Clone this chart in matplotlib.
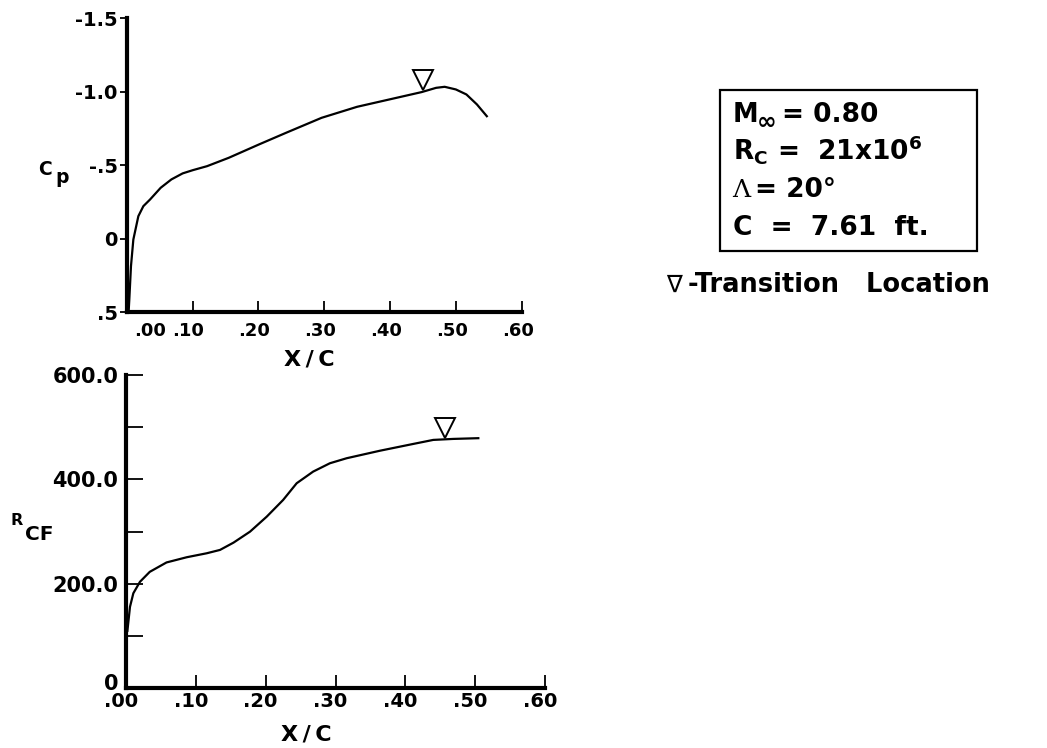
import matplotlib.pyplot as plt
from matplotlib.patches import Rectangle
from matplotlib.transforms import ScaledTranslation

plt.rcParams['font.family'] = ['DejaVu Sans']
plt.rcParams['font.weight'] = 'bold'
plt.rcParams['mathtext.fontset'] = 'custom'
plt.rcParams['mathtext.rm'] = 'DejaVu Sans:bold'
plt.rcParams['mathtext.it'] = 'DejaVu Sans:bold'
plt.rcParams['mathtext.bf'] = 'DejaVu Sans:bold'

# pressure distribution
cp_x = [0.003, 0.004, 0.0065, 0.0101, 0.0177, 0.0253, 0.0354, 0.0516, 0.0679, 0.085,
        0.1005, 0.122, 0.155, 0.201, 0.242, 0.296, 0.350, 0.399, 0.448, 0.470,
        0.483, 0.500, 0.516, 0.532, 0.547]
cp = [0.49, 0.41, 0.186, 0.005, -0.154, -0.222, -0.267, -0.347, -0.404, -0.445,
      -0.467, -0.494, -0.551, -0.642, -0.721, -0.823, -0.898, -0.948, -0.998, -1.027,
      -1.034, -1.016, -0.982, -0.914, -0.834]
cp_trans_x = [0.4506]
cp_trans_y = [-1.077]

# crossflow Reynolds number
rcf_x = [0.002, 0.0057, 0.0105, 0.020, 0.034, 0.058, 0.087, 0.1156, 0.1346, 0.154,
         0.1776, 0.2015, 0.225, 0.2444, 0.268, 0.292, 0.316, 0.3637, 0.4114, 0.440,
         0.4687, 0.5045]
rcf = [110, 156, 182, 204, 223, 241, 251, 258.6, 265, 279,
       300, 328.7, 360.7, 392.7, 415, 431, 440.6, 455, 468, 475.7,
       477.6, 479]
rcf_trans_x = [0.457]
rcf_trans_y = [498.7]

xticks = [0.0, 0.1, 0.2, 0.3, 0.4, 0.5, 0.6]
xtick_labels = ['.00', '.10', '.20', '.30', '.40', '.50', '.60']
cp_ticks = [-1.5, -1.0, -0.5, 0.0, 0.5]
cp_tick_labels = ['-1.5', '-1.0', '-.5', '0', '.5']
rcf_ticks = [0, 200, 400, 600]
rcf_tick_labels = ['0', '200.0', '400.0', '600.0']
rcf_minor = [100, 300, 500]

W, H = 1047, 748
fig = plt.figure(figsize=(W / 100, H / 100), dpi=100)


def ftext(px, py, s, **kw):
    kw.setdefault('va', 'baseline')
    return fig.text(px / W, 1 - py / H, s, **kw)


def shift(label, dx, dy=0):
    label.set_transform(label.get_transform() + ScaledTranslation(dx / 100, dy / 100, fig.dpi_scale_trans))


ax1 = fig.add_axes([126.7 / W, 1 - 312.3 / H, 395 / W, 294 / H])
ax2 = fig.add_axes([126 / W, 1 - 688.3 / H, 419 / W, 313.3 / H])

for ax in (ax1, ax2):
    for s in ('top', 'right'):
        ax.spines[s].set_visible(False)
    for s in ('left', 'bottom'):
        ax.spines[s].set_linewidth(3.0)
    ax.set_xlim(0, 0.6)
    ax.set_xticks(xticks)
    ax.set_xticklabels(xtick_labels)

ax1.tick_params(axis='x', direction='in', length=8, width=1.3, pad=7, labelsize=13)
ax2.tick_params(axis='x', direction='in', length=9.5, width=1.3, pad=3, labelsize=14)
for i, lab in enumerate(ax1.get_xticklabels()):
    shift(lab, 23 if i == 0 else -4)
for lab in ax2.get_xticklabels():
    shift(lab, -5)

ax1.plot(cp_x, cp, color='black', lw=1.6)
ax1.plot(cp_trans_x, cp_trans_y, marker='v', ms=14, mfc='white', mec='black', mew=1.4, ls='none')
ax1.set_ylim(0.5, -1.5)
ax1.set_yticks(cp_ticks)
ax1.set_yticklabels(cp_tick_labels)
ax1.tick_params(axis='y', direction='out', length=5.3, width=1.3, pad=1.2, labelsize=14)

ax2.plot(rcf_x, rcf, color='black', lw=1.6)
ax2.plot(rcf_trans_x, rcf_trans_y, marker='v', ms=14, mfc='white', mec='black', mew=1.4, ls='none')
ax2.set_ylim(0, 600)
ax2.set_yticks(rcf_ticks)
ax2.set_yticklabels(rcf_tick_labels)
ax2.set_yticks(rcf_minor, minor=True)
ax2.tick_params(axis='y', which='both', direction='in', length=12, width=1.3, pad=5.5, labelsize=15)
shift(ax2.get_yticklabels()[0], 0, 6)

# axis titles
ftext(309, 365, 'X\u2009/\u2009C', fontsize=16, ha='center')
ftext(306.6, 740, 'X\u2009/\u2009C', fontsize=16, ha='center')
ftext(38, 175, 'C', fontsize=13.5)
ftext(55, 183, 'p', fontsize=13.5)
ftext(10, 525, 'R', fontsize=11.5)
ftext(25, 540, 'CF', fontsize=14.5)

# parameter box
fig.add_artist(Rectangle((720 / W, 1 - 251 / H), 257 / W, 161 / H, transform=fig.transFigure,
                         fill=False, lw=1.6, ec='black'))
ftext(733, 121.7, 'M', fontsize=18.5)
ftext(757, 129, '∞', fontsize=17)
ftext(782, 121.7, '= 0.80', fontsize=19)
ftext(733, 160, r'R$_\mathrm{C}$ =  21x10$^\mathrm{6}$', fontsize=19)
ftext(732, 196.7, 'Λ', fontsize=18, family='DejaVu Serif', fontweight='normal')
ftext(755, 196.7, '= 20°', fontsize=19)
ftext(733, 235, 'C  =  7.61  ft.', fontsize=19)

ftext(666, 291.7, '∇', fontsize=17, fontweight='normal')
ftext(688, 291.7, '-Transition   Location', fontsize=18.5)

plt.savefig('out.png', dpi=100)
